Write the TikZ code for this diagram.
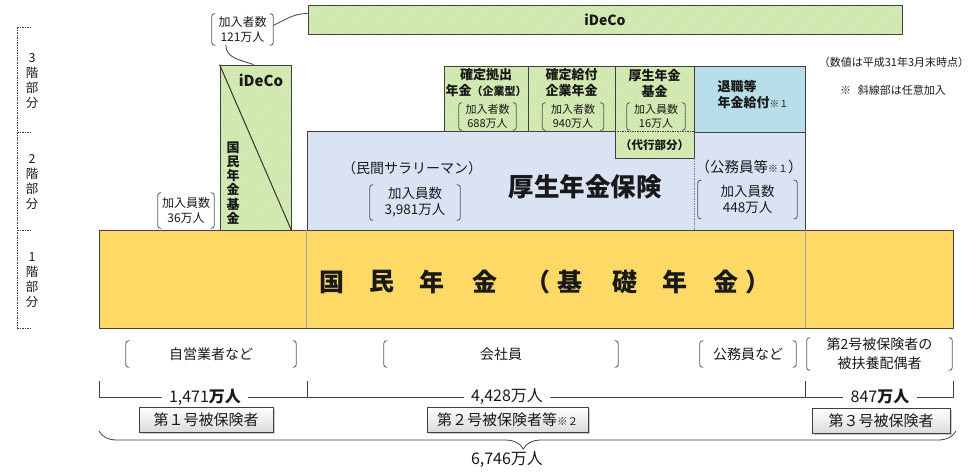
\documentclass[tikz,border=0pt]{standalone}
\usepackage{fontspec}
\setmainfont{Noto Sans CJK JP}
\usepackage{tikz}
\usetikzlibrary{patterns,shadows,decorations.pathreplacing,positioning}
\usepackage{xcolor}

\definecolor{edgegray}{RGB}{64,64,64}
\definecolor{hatchgreen}{RGB}{200,228,160}
\definecolor{hatchline}{RGB}{230,243,212}
\definecolor{koseiblue}{RGB}{218,227,243}
\definecolor{taishokublue}{RGB}{183,222,232}
\definecolor{kisoyellow}{RGB}{255,217,102}
\definecolor{textgray}{RGB}{25,25,25}
\definecolor{brkgray}{RGB}{90,90,90}

\newcommand\fsz[2]{\fontsize{#1}{#2}\selectfont}
% bracket hooks round a named node
\newcommand\brkt[1]{%
  \draw[brkline] ([xshift=3.5pt]#1.north west) -| (#1.south west) -- ([xshift=3.5pt]#1.south west);
  \draw[brkline] ([xshift=-3.5pt]#1.north east) -| (#1.south east) -- ([xshift=-3.5pt]#1.south east);}

\tikzset{
  tier/.style={draw=edgegray, line width=0.9pt, inner sep=0pt},
  hatched/.style={tier, preaction={fill=hatchgreen}, pattern=north east lines, pattern color=hatchline},
  bracketed/.style={inner sep=0pt, align=center},
  brkline/.style={draw=brkgray, line width=0.8pt, rounded corners=2.5pt},
  levelline/.style={draw=edgegray, line width=0.6pt, dash pattern=on 1.5pt off 1pt},
  thinline/.style={draw=gray!70, line width=0.4pt},
  callout/.style={draw=edgegray, line width=0.8pt},
  cntline/.style={draw=edgegray, line width=0.8pt},
  cntlabel/.style={inner xsep=7pt, inner ysep=0pt, font=\fsz{16}{18}},
  button/.style={draw=edgegray, line width=0.8pt, top color=white, bottom color=gray!28,
    drop shadow={shadow xshift=1.5pt, shadow yshift=-1.5pt, fill=gray!80}, inner sep=0pt,
    minimum height=25, font=\fsz{15}{17}},
}

\begin{document}
\begin{tikzpicture}[x=1pt, y=-1pt, font=\fsz{13}{15}, text=textgray, every node/.style={align=center}]
\useasboundingbox (0,0) rectangle (976,472);

% floors
\draw[levelline] (17,27) -- (17,328);
\draw[levelline] (17,27) -- (32,27);
\draw[levelline] (17,132) -- (32,132);
\draw[levelline] (17,230) -- (32,230);
\draw[levelline] (17,328) -- (32,328);
\node[font=\fsz{12.5}{15}] (lv3) at (32,81) {3\\階\\部\\分};
\node[font=\fsz{12.5}{15}] (lv2) at (32,182) {2\\階\\部\\分};
\node[font=\fsz{12.5}{15}] (lv1) at (32,280) {1\\階\\部\\分};

% 2nd and 3rd floor
\node[tier, fill=koseiblue, minimum width=498, minimum height=99] (kosei) at (556,180.5) {};
\node[tier, fill=taishokublue, minimum width=111, minimum height=66] (taishoku) at (749.5,99) {};
\node[hatched, minimum width=84, minimum height=65] (kyoshutsu) at (486,98.5) {};
\node[hatched, minimum width=87, minimum height=65] (kyufu) at (571.5,98.5) {};
\node[hatched, minimum width=79, minimum height=92] (kikin) at (654.5,112) {};
\draw[levelline] (kikin.west |- kyoshutsu.south) -- (kikin.east |- kyoshutsu.south);
\draw[levelline, draw=gray] (kikin.south east) -- (kikin.south east |- kosei.south);
\node[hatched, minimum width=71, minimum height=165] (kikinK) at (255.5,147.5) {};
\draw[line width=1pt, draw=black!80] (kikinK.north west) -- (kikinK.south east);
\node[hatched, minimum width=594, minimum height=29] (ideco) at (605,19.5) {};

% 1st floor
\node[tier, fill=kisoyellow, minimum width=854, minimum height=98] (kokumin) at (526,279) {};
\draw[thinline] (kosei.south west) -- (kosei.south west |- kokumin.south);
\draw[thinline] (kosei.south east) -- (kosei.south east |- kokumin.south);
\foreach \c/\x [count=\i] in {国/332, 民/382, 年/432, 金/485, （/538, 基/570, 礎/625, 年/675, 金/726, ）/758}
  \node[font=\bfseries\fsz{25}{27}] (kiso\i) at (\x,282) {\c};

% texts
\node[font=\bfseries\fsz{14}{16}] (idecoT) at (605,19.5) {iDeCo};
\node[font=\bfseries\fsz{15}{17}] (idecoK) at (261,80) {iDeCo};
\node[font=\bfseries\fsz{13}{14.2}] (kikinKT) at (233,183) {国\\民\\年\\金\\基\\金};
\node[font=\bfseries\fsz{13}{16}] (kyoshutsuT) at (486,83) {確定拠出\\年金{\fsz{11}{16}（企業型）}};
\node[font=\bfseries\fsz{13}{16}] (kyufuT) at (571.5,83) {確定給付\\企業年金};
\node[font=\bfseries\fsz{13}{16}] (kikinT) at (654.5,83) {厚生年金\\基金};
\node[font=\bfseries\fsz{11.5}{14}] (daiko) at (654.5,145) {（代行部分）};
\node[bracketed, font=\fsz{11}{13.5}, minimum width=57, minimum height=27] (kyoshutsuN) at (487.5,116.5) {加入者数\\688万人};
\node[bracketed, font=\fsz{11}{13.5}, minimum width=61, minimum height=27] (kyufuN) at (573,116.5) {加入者数\\940万人};
\node[bracketed, font=\fsz{11}{13.5}, minimum width=58, minimum height=27] (kikinN) at (656,116.5) {加入員数\\16万人};
\brkt{kyoshutsuN}
\brkt{kyufuN}
\brkt{kikinN}
\node[font=\bfseries\fsz{13}{16}, align=left, anchor=west] (taishokuT) at (714,95) {退職等\\年金給付{\mdseries\fsz{9.5}{11}※１}};

\node[font=\bfseries\fsz{25.5}{27}] (koseiT) at (585,187) {厚生年金保険};
\node[font=\fsz{14}{15}] (minkan) at (412,168) {（民間サラリーマン）};
\node[bracketed, font=\fsz{13.5}{16}, minimum width=90, minimum height=35] (koseiN) at (415,202.5) {加入員数\\3,981万人};
\brkt{koseiN}
\node[font=\fsz{14.5}{15}] (komuin) at (749,167) {（公務員等{\fsz{10}{11}※１}）};
\node[bracketed, font=\fsz{13.5}{16}, minimum width=99, minimum height=38] (komuinN) at (747.5,199.5) {加入員数\\448万人};
\brkt{komuinN}

% callouts
\node[bracketed, font=\fsz{12}{15}, minimum width=61, minimum height=31] (c121) at (242.5,29.5) {加入者数\\121万人};
\brkt{c121}
\node[bracketed, font=\fsz{12}{15}, minimum width=56, minimum height=35] (c36) at (186,210.5) {加入員数\\36万人};
\brkt{c36}
\draw[callout] ([xshift=14pt]c121.south west) to[out=-90, in=160] ([xshift=-2pt]kikinK.north);
\draw[callout] ([yshift=4pt]c121.east) to[out=25, in=180] ([yshift=6pt]ideco.west);

% notes
\node[font=\fsz{11}{12}] (asof) at (894,62) {（数値は平成31年3月末時点）};
\node[font=\fsz{11}{12}] (hatchnote) at (893,90) {※\hspace{0.6em}斜線部は任意加入};

% who
\node[bracketed, font=\fsz{14}{17}, minimum width=170, minimum height=26] (jiei) at (211,354) {自営業者など};
\node[bracketed, font=\fsz{14}{17}, minimum width=234, minimum height=26] (kaisha) at (501,354) {会社員};
\node[bracketed, font=\fsz{14}{17}, minimum width=96, minimum height=26] (komuinB) at (748,354) {公務員など};
\node[bracketed, font=\fsz{14}{19}, minimum width=145, minimum height=27] (haigu) at (879.5,354) {第2号被保険者の\\被扶養配偶者};
\brkt{jiei}
\brkt{kaisha}
\brkt{komuinB}
\brkt{haigu}

% counts
\coordinate (t1) at (99,381);
\coordinate (t2) at (307,381);
\coordinate (t3) at (805,381);
\coordinate (t4) at (953,381);
\node[cntlabel] (n1471) at (205,397) {1,471\textbf{万人}};
\node[cntlabel] (n4428) at (507,397) {4,428万人};
\node[cntlabel] (n847) at (880,397) {847\textbf{万人}};
\draw[cntline] (t1) |- (n1471.west);
\draw[cntline] (n1471.east) -- (n4428.west);
\draw[cntline] (n4428.east) -- (n847.west);
\draw[cntline] (n847.east) -| (t4);
\draw[cntline] (t2) -- (t2 |- n1471.west);
\draw[cntline] (t3) -- (t3 |- n847.west);

\node[button, minimum width=134] (dai1) at (206,419.5) {第１号被保険者};
\node[button, minimum width=161] (dai2) at (507.5,419.5) {第２号被保険者等{\fsz{10.5}{12}※２}};
\node[button, minimum width=138] (dai3) at (881,421) {第３号被保険者};

\coordinate (b1) at (99,431);
\coordinate (b2) at (956,431);
\draw[cntline, decorate, decoration={brace, mirror, amplitude=18pt, aspect=0.495}] (b1) -- (b2);
\node[font=\fsz{16}{18}] (total) at (507,460) {6,746万人};
\end{tikzpicture}
\end{document}
